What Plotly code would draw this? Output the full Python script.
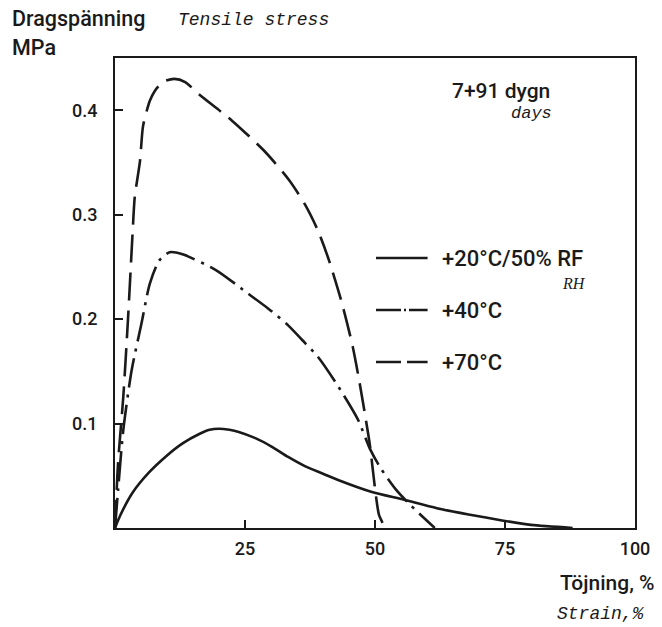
import plotly.graph_objects as go

# Strain (%) and tensile stress (MPa)
x_20 = [0, 1, 3.4, 6.5, 9.9, 13, 16.2, 18.2, 20, 22, 23.8, 27, 30.1, 33.3, 36.6, 40, 42.9, 49.1, 55.6, 61.9, 68, 74.7, 80, 88]
y_20 = [0, 0.012, 0.034, 0.053, 0.069, 0.081, 0.09, 0.094, 0.095, 0.094, 0.092, 0.086, 0.078, 0.068, 0.059, 0.052, 0.046, 0.035, 0.027, 0.019, 0.013, 0.007, 0.003, 0]

x_40 = [0, 0.6, 1.6, 3.2, 5.1, 6.7, 8.5, 10.5, 13, 19.4, 25.7, 29.5, 33.3, 36, 39, 43, 46.7, 49.1, 51, 54, 56.8, 61.5]
y_40 = [0, 0.037, 0.094, 0.151, 0.196, 0.234, 0.256, 0.264, 0.262, 0.247, 0.224, 0.21, 0.194, 0.18, 0.164, 0.135, 0.104, 0.075, 0.058, 0.037, 0.022, 0]

x_70 = [0, 0.6, 1.6, 2.5, 3.4, 3.8, 4.8, 5.4, 6.7, 7.6, 9.2, 11.4, 13.5, 16.2, 22.5, 28.9, 33.5, 36.5, 39, 41.1, 43.6, 45.7, 47, 48.2, 49, 49.6, 50.2, 50.8, 52]
y_70 = [0, 0.063, 0.126, 0.2, 0.284, 0.317, 0.351, 0.385, 0.409, 0.418, 0.427, 0.43, 0.427, 0.415, 0.39, 0.36, 0.333, 0.31, 0.285, 0.257, 0.216, 0.174, 0.14, 0.105, 0.08, 0.055, 0.03, 0.012, 0]

names = ["+20°C/50% RF", "+40°C", "+70°C"]
x_ticks = [25, 50, 75, 100]
y_ticks = [0.1, 0.2, 0.3, 0.4]

INK = "#1a1a1a"
SANS = "Roboto"
MONO = "Liberation Mono"
DASHES = ["solid", "30px,7px,3px,7px", "28px,10px"]
LEG_DASHES = ["solid", "25px,3px,2px,3px", "25px,6px"]

W, H = 662, 627
L, R, T, B = 115, 23, 58, 99
pw, ph = W - L - R, H - T - B
def px(xp): return (xp - L) / pw
def py(yp): return (H - B - yp) / ph

fig = go.Figure()
for xs, ys, dash, nm in zip([x_20, x_40, x_70], [y_20, y_40, y_70], DASHES, names):
    fig.add_trace(go.Scatter(
        x=xs, y=ys, mode="lines", name=nm, showlegend=False,
        line=dict(color=INK, width=2.6, dash=dash, shape="spline", smoothing=0.7),
    ))

axis_common = dict(
    showgrid=False, zeroline=False, showline=True, mirror=True,
    linecolor=INK, linewidth=2, ticks="inside", ticklen=8, tickwidth=2,
    tickcolor=INK, tickfont=dict(family=SANS, size=18, color=INK, weight=500),
)
fig.update_xaxes(range=[0, 100], tickvals=x_ticks, ticktext=[str(v) for v in x_ticks],
                 ticklabelstandoff=3, **axis_common)
fig.update_yaxes(range=[0, 0.45], tickvals=y_ticks, ticktext=[f"{v:.1f}" for v in y_ticks],
                 ticklabelstandoff=12, **axis_common)

def txt(x, y, s, family=SANS, size=21, italic=False, weight=500, xanchor="left"):
    fig.add_annotation(x=px(x), y=py(y), xref="paper", yref="paper", text=s, showarrow=False,
                       xanchor=xanchor, yanchor="middle",
                       font=dict(family=family, size=size, color=INK,
                                 style="italic" if italic else "normal", weight=weight))

# manual legend (sample line + label)
leg_y = [258, 310, 362]
for nm, dash, yy in zip(names, LEG_DASHES, leg_y):
    fig.add_shape(type="line", xref="paper", yref="paper",
                  x0=px(378), x1=px(430), y0=py(yy), y1=py(yy),
                  line=dict(color=INK, width=2.6, dash=dash))
    txt(442, yy, nm, size=22)

txt(9, 19, "Dragspänning", size=21.5)
txt(176, 20, "Tensile stress", family=MONO, size=18, italic=True, weight=400)
txt(9, 47, "MPa", size=21.5)
txt(555, 91, "7+91 dygn", size=21, xanchor="right")
txt(557, 113, "days", family=MONO, size=17, italic=True, weight=400, xanchor="right")
txt(592, 283, "RH", family="Liberation Serif", size=16, italic=True, weight=400, xanchor="right")
txt(661, 583, "Töjning, %", size=21, xanchor="right")
txt(651, 614, "Strain,%", family=MONO, size=18, italic=True, weight=400, xanchor="right")

fig.update_layout(
    width=W, height=H, autosize=False,
    margin=dict(l=L, r=R, t=T, b=B),
    paper_bgcolor="white", plot_bgcolor="white",
    showlegend=False,
)

fig.write_html("out.html", config={"displayModeBar": False},
               post_script="document.body.style.margin='0';")
